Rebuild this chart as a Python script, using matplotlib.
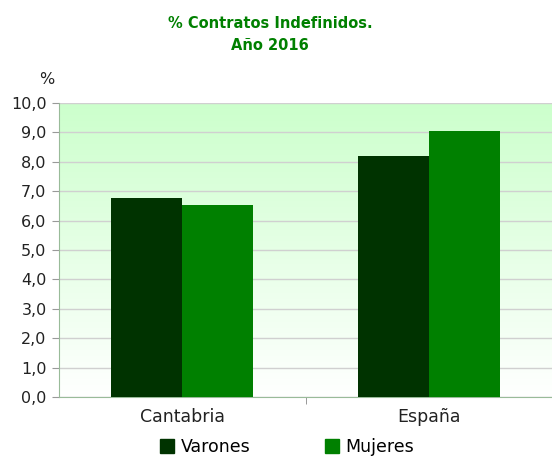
import numpy as np
import matplotlib
matplotlib.use('Agg')
import matplotlib.pyplot as plt
from matplotlib.patches import Patch

# datos
categorias = ['Cantabria', 'España']
varones = [6.78, 8.21]
mujeres = [6.54, 9.05]
series = ['Varones', 'Mujeres']
colores = ['#003300', '#008000']

plt.rcParams['font.family'] = ['DejaVu Sans']

fig = plt.figure(figsize=(5.52, 4.59), dpi=100)
ax = fig.add_axes([0.107, 0.135, 0.893, 0.6405])

# fondo degradado verde -> blanco
grad = np.linspace(1, 0, 256).reshape(-1, 1)
cmap = matplotlib.colors.LinearSegmentedColormap.from_list('g', ['#ffffff', '#ccffcc'])
ax.imshow(grad, extent=[-0.5, 1.5, 0, 10], aspect='auto', cmap=cmap, zorder=0)

x = np.arange(len(categorias))
ancho = 0.2875
ax.bar(x - ancho / 2, varones, ancho, color=colores[0], zorder=3)
ax.bar(x + ancho / 2, mujeres, ancho, color=colores[1], zorder=3)

ax.set_xlim(-0.5, 1.5)
ax.set_ylim(0, 10)
ax.set_yticks(np.arange(0, 11, 1))
ax.set_yticklabels([f'{v:.1f}'.replace('.', ',') for v in range(0, 11)], fontsize=11.5, color='#222222')
ax.yaxis.grid(True, color='#d0d0d0', linewidth=1, zorder=1)
ax.set_axisbelow(True)

ax.set_xticks(x)
ax.set_xticklabels(categorias, fontsize=12.5, color='#222222')
ax.set_xticks([0.5], minor=True)
ax.tick_params(axis='x', which='major', length=0, pad=8)
ax.tick_params(axis='x', which='minor', length=5, color='#888888')
ax.tick_params(axis='y', length=5, color='#999999', pad=4)

for s in ['top', 'right']:
    ax.spines[s].set_visible(False)
ax.spines['left'].set_color('#99bb99')
ax.spines['bottom'].set_color('#99bb99')

fig.text(0.489, 0.925, '% Contratos Indefinidos.\nAño 2016', ha='center', va='center',
         fontsize=10.5, fontweight='bold', color='#008000', linespacing=1.6)
fig.text(0.085, 0.826, '%', ha='center', va='center', fontsize=11.5, color='#222222')

handles = [Patch(color=c) for c in colores]
fig.legend(handles, series, loc='center', bbox_to_anchor=(0.52, 0.026), ncol=2, frameon=False,
           fontsize=12.5, handlelength=0.8, handleheight=0.8, columnspacing=4.3, handletextpad=0.4,
           borderpad=0.1)

fig.savefig('out.png', dpi=100)
